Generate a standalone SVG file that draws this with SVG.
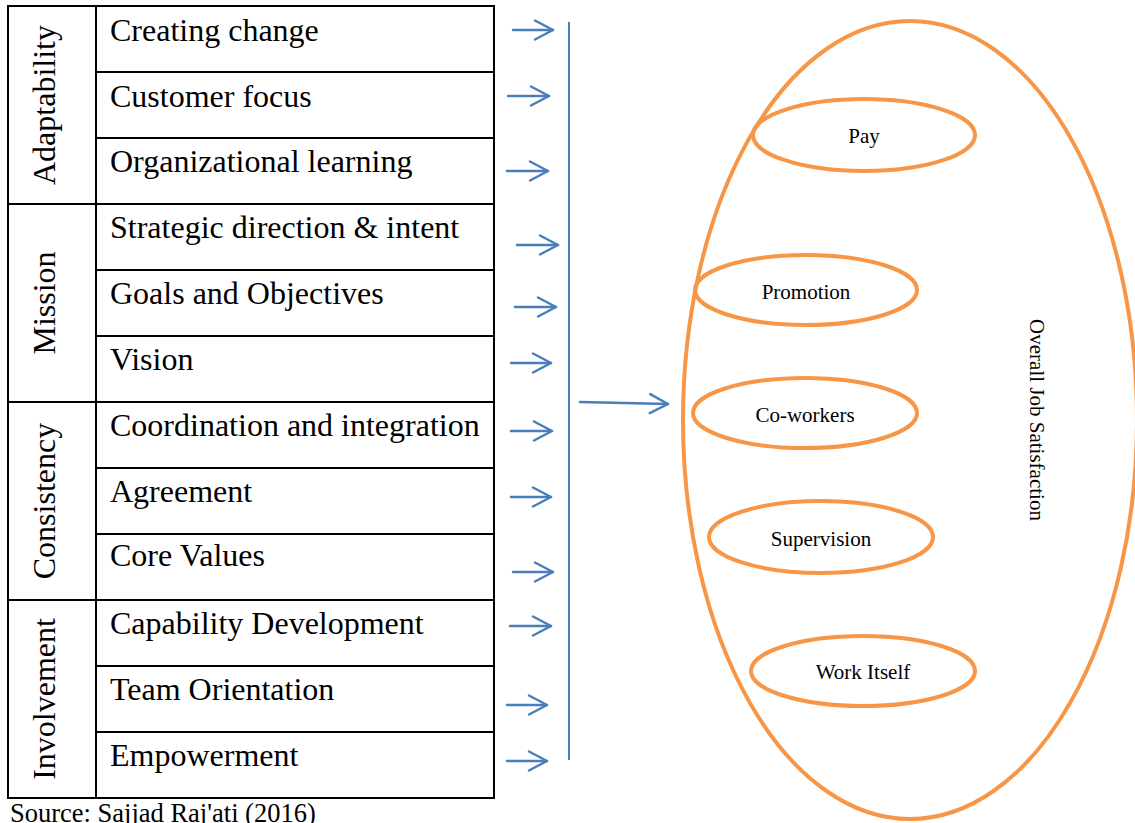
<svg xmlns="http://www.w3.org/2000/svg" width="1135" height="823" viewBox="0 0 1135 823">
  <style>
    .grid { fill: none; stroke: #000; stroke-width: 2; }
    .item { font-family: "Liberation Serif", "Times New Roman", serif; font-size: 32px; fill: #000; }
    .group { font-family: "Liberation Serif", "Times New Roman", serif; font-size: 32px; fill: #000; text-anchor: middle; }
    .link { fill: none; stroke: #4A7EBB; stroke-width: 2.5; stroke-linecap: round; }
    .rail { fill: none; stroke: #4A7EBB; stroke-width: 2; }
    .facet { fill: none; stroke: #F79646; stroke-width: 4; }
    .facet-label { font-family: "Liberation Serif", "Times New Roman", serif; font-size: 21px; fill: #000; text-anchor: middle; }
    .source { font-family: "Liberation Serif", "Times New Roman", serif; font-size: 26.5px; fill: #000; }
  </style>
  <defs>
    <marker id="open-head" markerUnits="userSpaceOnUse" viewBox="-22 -12 26 24" refX="0" refY="0" markerWidth="26" markerHeight="24" orient="auto" overflow="visible">
      <path d="M-18,-9.5 L0,0 L-18,9.5" fill="none" stroke="#4A7EBB" stroke-width="2.5" stroke-linecap="round" stroke-linejoin="round"/>
    </marker>
  </defs>
  <rect width="1135" height="823" fill="#fff"/>

  <!-- culture traits table -->
  <g id="table">
    <rect class="grid" x="8" y="6" width="486" height="792"/>
    <line class="grid" x1="96" y1="6" x2="96" y2="798"/>
    <!-- trait boundaries span both columns -->
    <line class="grid" x1="8" y1="204" x2="494" y2="204"/>
    <line class="grid" x1="8" y1="402" x2="494" y2="402"/>
    <line class="grid" x1="8" y1="600" x2="494" y2="600"/>
    <!-- index rows -->
    <line class="grid" x1="96" y1="72" x2="494" y2="72"/>
    <line class="grid" x1="96" y1="138" x2="494" y2="138"/>
    <line class="grid" x1="96" y1="270" x2="494" y2="270"/>
    <line class="grid" x1="96" y1="336" x2="494" y2="336"/>
    <line class="grid" x1="96" y1="468" x2="494" y2="468"/>
    <line class="grid" x1="96" y1="534" x2="494" y2="534"/>
    <line class="grid" x1="96" y1="666" x2="494" y2="666"/>
    <line class="grid" x1="96" y1="732" x2="494" y2="732"/>
  </g>

  <g id="adaptability">
    <text class="group" transform="translate(55,105) rotate(-90)">Adaptability</text>
    <text class="item" x="110" y="41">Creating change</text>
    <text class="item" x="110" y="107">Customer focus</text>
    <text class="item" x="110" y="172">Organizational learning</text>
  </g>
  <g id="mission">
    <text class="group" transform="translate(55,303) rotate(-90)">Mission</text>
    <text class="item" x="110" y="238">Strategic direction &amp; intent</text>
    <text class="item" x="110" y="304">Goals and Objectives</text>
    <text class="item" x="110" y="370">Vision</text>
  </g>
  <g id="consistency">
    <text class="group" transform="translate(55,501) rotate(-90)">Consistency</text>
    <text class="item" x="110" y="436">Coordination and integration</text>
    <text class="item" x="110" y="502">Agreement</text>
    <text class="item" x="110" y="566">Core Values</text>
  </g>
  <g id="involvement">
    <text class="group" transform="translate(55,699) rotate(-90)">Involvement</text>
    <text class="item" x="110" y="634">Capability Development</text>
    <text class="item" x="110" y="700">Team Orientation</text>
    <text class="item" x="110" y="766">Empowerment</text>
  </g>

  <!-- connectors -->
  <g id="connectors">
    <line class="link" x1="513" y1="30" x2="553" y2="30" marker-end="url(#open-head)"/>
    <line class="link" x1="508" y1="96" x2="549" y2="96" marker-end="url(#open-head)"/>
    <line class="link" x1="507" y1="171" x2="548" y2="171" marker-end="url(#open-head)"/>
    <line class="link" x1="517" y1="245" x2="558" y2="245" marker-end="url(#open-head)"/>
    <line class="link" x1="515" y1="307" x2="556" y2="307" marker-end="url(#open-head)"/>
    <line class="link" x1="511" y1="363" x2="551" y2="363" marker-end="url(#open-head)"/>
    <line class="link" x1="511" y1="431" x2="552" y2="431" marker-end="url(#open-head)"/>
    <line class="link" x1="511" y1="497" x2="551" y2="497" marker-end="url(#open-head)"/>
    <line class="link" x1="513" y1="572" x2="553" y2="572" marker-end="url(#open-head)"/>
    <line class="link" x1="510" y1="626" x2="551" y2="626" marker-end="url(#open-head)"/>
    <line class="link" x1="507" y1="705" x2="547" y2="705" marker-end="url(#open-head)"/>
    <line class="link" x1="507" y1="761" x2="547" y2="761" marker-end="url(#open-head)"/>
    <line class="rail" x1="569" y1="22" x2="569" y2="760"/>
    <line class="link" x1="580" y1="402" x2="668" y2="404" marker-end="url(#open-head)"/>
  </g>

  <!-- job satisfaction facets -->
  <g id="overall-job-satisfaction">
    <ellipse class="facet" cx="910" cy="420" rx="227" ry="399"/>
    <text class="facet-label" transform="translate(1030,420) rotate(90)">Overall Job Satisfaction</text>
  </g>
  <g id="pay">
    <ellipse class="facet" cx="864" cy="135" rx="111" ry="36"/>
    <text class="facet-label" x="864" y="143">Pay</text>
  </g>
  <g id="promotion">
    <ellipse class="facet" cx="806" cy="290" rx="111" ry="35"/>
    <text class="facet-label" x="806" y="299">Promotion</text>
  </g>
  <g id="co-workers">
    <ellipse class="facet" cx="805" cy="413" rx="112" ry="35"/>
    <text class="facet-label" x="805" y="422">Co-workers</text>
  </g>
  <g id="supervision">
    <ellipse class="facet" cx="821" cy="537" rx="112" ry="36"/>
    <text class="facet-label" x="821" y="546">Supervision</text>
  </g>
  <g id="work-itself">
    <ellipse class="facet" cx="863" cy="671" rx="112" ry="35"/>
    <text class="facet-label" x="863" y="679">Work Itself</text>
  </g>

  <text class="source" x="10" y="822">Source: Sajjad Raj'ati (2016)</text>
</svg>
